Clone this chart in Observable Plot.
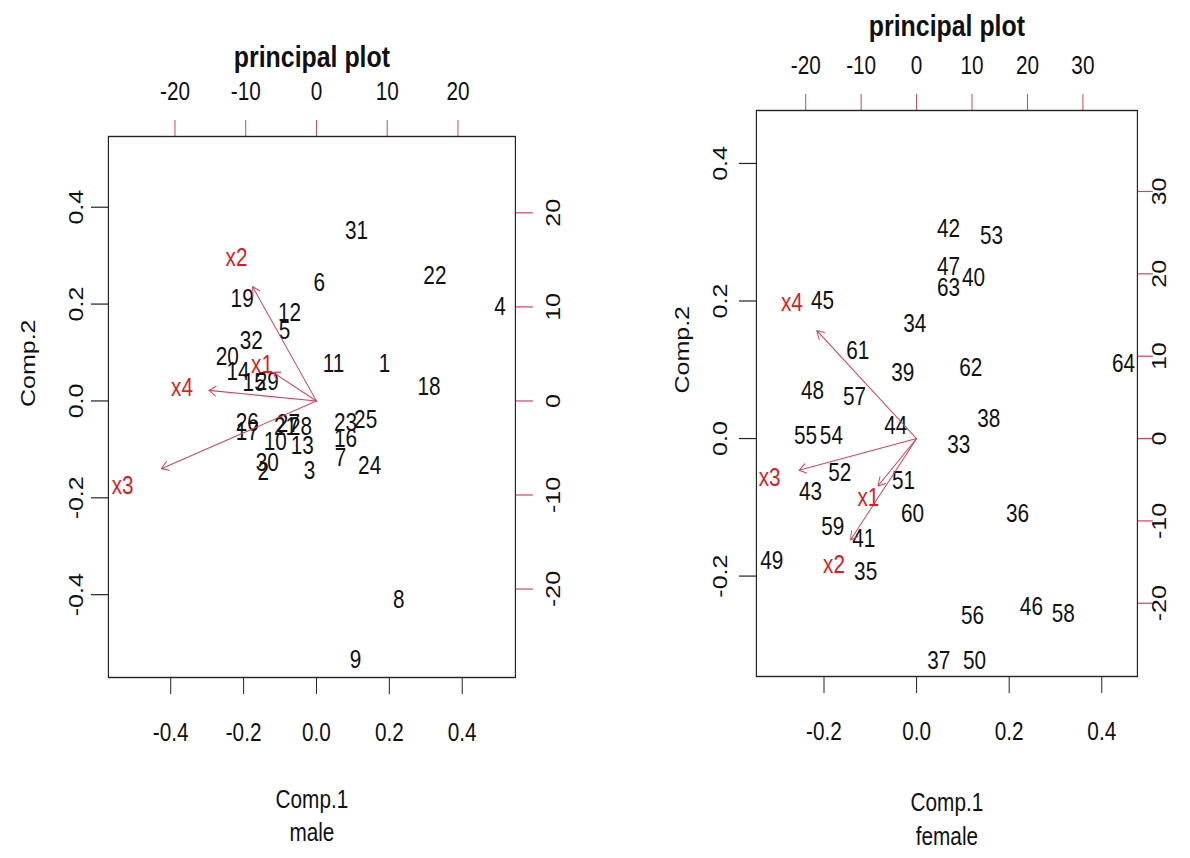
<!DOCTYPE html>
<html>
<head>
<meta charset="utf-8">
<script src="https://cdn.jsdelivr.net/npm/d3@7"></script>
<script src="https://cdn.jsdelivr.net/npm/@observablehq/plot@0.6"></script>
<style>
  html, body { margin: 0; padding: 0; background: #fff; overflow: hidden; }
  #wrap { display: flex; width: 1190px; height: 858px; }
  .cell { width: 595px; height: 858px; flex: 0 0 595px; overflow: hidden; }
  .cell svg { display: block; transform-origin: 0 0; max-width: none !important; }
</style>
</head>
<body>
<div id="wrap"></div>
<script>
// ---------- male (left panel) ----------
const maleIds   = [1,2,3,4,5,6,7,8,9,10,11,12,13,14,15,16,17,18,19,20,21,22,23,24,25,26,27,28,29,30,31,32];
const maleComp1 = [0.187,-0.146,-0.019,0.504,-0.088,0.008,0.066,0.226,0.107,-0.113,0.047,-0.074,-0.039,-0.215,-0.171,0.080,-0.190,0.309,-0.204,-0.245,-0.085,0.325,0.080,0.146,0.135,-0.190,-0.077,-0.044,-0.135,-0.135,0.110,-0.179];
const maleComp2 = [0.077,-0.147,-0.145,0.195,0.145,0.244,-0.118,-0.410,-0.534,-0.085,0.077,0.182,-0.093,0.060,0.037,-0.079,-0.064,0.029,0.211,0.091,-0.054,0.257,-0.046,-0.135,-0.039,-0.046,-0.048,-0.054,0.039,-0.128,0.350,0.124];
const maleVars  = ["x1","x2","x3","x4"];
const maleLoad1 = [-7.7,-11.3,-27.4,-19.0];
const maleLoad2 = [3.8,15.2,-9.0,1.4];
const maleRatio = 51.5;
const maleTicksPrimary   = [-0.4,-0.2,0,0.2,0.4];
const maleTicksSecondary = [-20,-10,0,10,20];

// ---------- female (right panel) ----------
const femaleIds   = [33,34,35,36,37,38,39,40,41,42,43,44,45,46,47,48,49,50,51,52,53,54,55,56,57,58,59,60,61,62,63,64];
const femaleComp1 = [0.091,-0.004,-0.110,0.218,0.048,0.156,-0.030,0.123,-0.114,0.069,-0.229,-0.045,-0.203,0.248,0.069,-0.225,-0.313,0.125,-0.028,-0.166,0.162,-0.184,-0.240,0.121,-0.134,0.317,-0.181,-0.009,-0.127,0.117,0.069,0.447];
const femaleComp2 = [-0.010,0.166,-0.194,-0.109,-0.324,0.028,0.096,0.234,-0.146,0.304,-0.077,0.018,0.200,-0.245,0.250,0.069,-0.178,-0.324,-0.061,-0.050,0.295,0.003,0.003,-0.258,0.061,-0.255,-0.128,-0.109,0.127,0.102,0.219,0.108];
const femaleVars  = ["x1","x2","x3","x4"];
const femaleLoad1 = [-8.7,-14.9,-26.5,-22.5];
const femaleLoad2 = [-7.2,-15.4,-4.8,16.4];
const femaleRatio = 83.5;
const femaleTicksPrimary   = [-0.2,0,0.2,0.4];
const femaleTicksSecondary = [-20,-10,0,10,20,30];

const FONT = "'Liberation Sans',Arial,sans-serif";
const RED_TEXT = "#e41a1c";
const RED_LINE = "#d8405c";
const S = 0.83;               // horizontal squeeze of the original graphic
const hx = v => v / S;         // horizontal sizes given in screen pixels

function panel(cfg) {
  const pts = cfg.ids.map((id, i) => ({id: String(id), c1: cfg.c1[i], c2: cfg.c2[i]}));
  const loads = cfg.vars.map((v, i) => ({
    v, ox: 0, oy: 0,
    lx: cfg.l1[i] / cfg.ratio, ly: cfg.l2[i] / cfg.ratio,
    ax: 0.8 * cfg.l1[i] / cfg.ratio, ay: 0.8 * cfg.l2[i] / cfg.ratio
  }));
  const sec = cfg.sec.map(s => s / cfg.ratio);
  const secFmt = d => String(Math.round(d * cfg.ratio));
  const priFmt = d => d.toFixed(1);
  const W = hx(595);
  const svg = Plot.plot({
    width: W, height: 858,
    marginLeft: hx(cfg.m[0]), marginRight: hx(cfg.m[1]), marginTop: cfg.m[2], marginBottom: cfg.m[3],
    x: {domain: cfg.domain, axis: null},
    y: {domain: cfg.domain, axis: null},
    style: {fontFamily: FONT, fontSize: "25px", background: "#fff", color: "#111"},
    marks: [
      Plot.axisX(cfg.pri, {anchor: "bottom", tickSize: 17, tickPadding: cfg.pad.bottom, tickFormat: priFmt, fontSize: 25, stroke: "#222", strokeWidth: 1.2}),
      Plot.axisY(cfg.pri, {anchor: "left", tickSize: hx(17), tickPadding: hx(cfg.pad.left), tickFormat: priFmt, tickRotate: -90, fontSize: 25, stroke: "#222", strokeWidth: 1.2}),
      Plot.axisX(sec, {anchor: "top", tickSize: 17, tickPadding: cfg.pad.top, tickFormat: secFmt, fontSize: 25, stroke: RED_LINE, fill: "#111", strokeWidth: 1.2}),
      Plot.axisY(sec, {anchor: "right", tickSize: hx(cfg.rtick), tickPadding: hx(cfg.pad.right), tickFormat: secFmt, tickRotate: -90, fontSize: 25, stroke: RED_LINE, fill: "#111", strokeWidth: 1.2}),
      Plot.frame({stroke: "#222", strokeWidth: 1.4}),
      Plot.text(pts, {x: "c1", y: "c2", text: "id", fontSize: 25, fill: "#111"}),
      Plot.arrow(loads, {x1: "ox", y1: "oy", x2: "ax", y2: "ay", stroke: RED_LINE, strokeWidth: 1.1, headLength: 13, headAngle: 60}),
      Plot.text(loads, {x: "lx", y: "ly", text: "v", fontSize: 25, fill: RED_TEXT}),
      Plot.text(["principal plot"], {frameAnchor: "top", lineAnchor: "middle", dy: cfg.titleDy, fontSize: 30, fontWeight: "bold", fill: "#111"}),
      Plot.text(["Comp.1"], {frameAnchor: "bottom", lineAnchor: "middle", dy: cfg.xlabDy, fontSize: 25, fill: "#111"}),
      Plot.text([cfg.sub], {frameAnchor: "bottom", lineAnchor: "middle", dy: cfg.subDy, fontSize: 25, fill: "#111"}),
      Plot.text(["Comp.2"], {frameAnchor: "left", lineAnchor: "middle", dx: hx(cfg.ylabDx), rotate: -90, fontSize: 25, fill: "#111"})
    ]
  });
  svg.style.maxWidth = "none";
  svg.style.width = W + "px";
  svg.style.height = "858px";
  svg.style.transform = `scaleX(${S})`;
  const cell = document.createElement("div");
  cell.className = "cell";
  cell.appendChild(svg);
  return cell;
}

const wrap = document.getElementById("wrap");
wrap.appendChild(panel({
  ids: maleIds, c1: maleComp1, c2: maleComp2, vars: maleVars, l1: maleLoad1, l2: maleLoad2,
  ratio: maleRatio, pri: maleTicksPrimary, sec: maleTicksSecondary,
  domain: [-0.571, 0.546], m: [108, 80, 136, 181], rtick: 17,
  pad: {bottom: 29, left: 8, top: 20, right: 28},
  titleDy: -79, xlabDy: 122, subDy: 155, ylabDx: -80, sub: "male"
}));
wrap.appendChild(panel({
  ids: femaleIds, c1: femaleComp1, c2: femaleComp2, vars: femaleVars, l1: femaleLoad1, l2: femaleLoad2,
  ratio: femaleRatio, pri: femaleTicksPrimary, sec: femaleTicksSecondary,
  domain: [-0.346, 0.477], m: [161, 53, 110, 182], rtick: 15,
  pad: {bottom: 29, left: 12, top: 20, right: 14},
  titleDy: -84, xlabDy: 126, subDy: 160, ylabDx: -74, sub: "female"
}));
</script>
</body>
</html>
